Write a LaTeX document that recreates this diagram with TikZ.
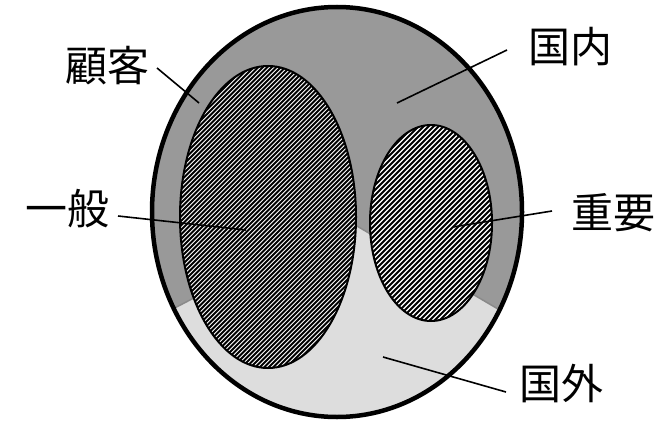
\documentclass[tikz,border=0pt]{standalone}
\usepackage{fontspec}
\newfontfamily\cjk{Noto Sans CJK JP}
\definecolor{darkreg}{HTML}{999999}
\definecolor{lightreg}{HTML}{DDDDDD}
\definecolor{seam}{HTML}{8A8A8A}
\begin{document}
\begin{tikzpicture}[x=1pt,y=-1pt,
  lbl/.style={font=\cjk\fontsize{42}{42}\selectfont, inner sep=0pt},
  leader/.style={draw=black, line width=1.6pt},
  innerrim/.style={draw=black, line width=2pt}]
\useasboundingbox (0,0) rectangle (671,420);

% outer customer region
\coordinate (bigc) at (337,212);
\fill[darkreg] (bigc) ellipse [x radius=185pt, y radius=205pt];
\begin{scope}
  \clip (bigc) ellipse [x radius=185pt, y radius=205pt];
  \fill[lightreg] (100,347) -- (345,219) -- (600,369) -- (600,430) -- (100,430) -- cycle;
  \draw[seam, line width=1.5pt] (100,347) -- (345,219) -- (600,369);
\end{scope}

% left hatched ellipse (general)
\coordinate (genc) at (268,217);
\begin{scope}
  \clip (genc) ellipse [x radius=88pt, y radius=151pt];
  \fill[white] (genc) ellipse [x radius=88pt, y radius=151pt];
  \foreach \c in {240,244.5,...,730} {
    \draw[line width=1.8pt] (\c-420,420) -- (\c,0);
  }
\end{scope}
\draw[innerrim] (genc) ellipse [x radius=88pt, y radius=151pt];

% right hatched ellipse (important)
\coordinate (impc) at (431,223);
\begin{scope}
  \clip (impc) ellipse [x radius=61pt, y radius=98pt];
  \fill[white] (impc) ellipse [x radius=61pt, y radius=98pt];
  \foreach \c in {490,495,...,820} {
    \draw[line width=2pt] (\c-420,420) -- (\c,0);
  }
\end{scope}
\draw[innerrim] (impc) ellipse [x radius=61pt, y radius=98pt];

% outer rim
\draw[black, line width=4.5pt] (bigc) ellipse [x radius=185pt, y radius=205pt];

% labels
\node[lbl] (kokyaku) at (107,66) {顧客};
\node[lbl] (kokunai) at (570,47) {国内};
\node[lbl] (ippan) at (67,209) {一般};
\node[lbl] (juuyou) at (613,213) {重要};
\node[lbl] (kokugai) at (561,384) {国外};

% leader end points
\coordinate (kokyakuS) at (157,68);
\coordinate (kokyakuE) at (199,103);
\coordinate (kokunaiS) at (507,50);
\coordinate (kokunaiE) at (397,103);
\coordinate (ippanS) at (118,216);
\coordinate (ippanE) at (246,230);
\coordinate (juuyouS) at (552,211);
\coordinate (juuyouE) at (453,227);
\coordinate (kokugaiS) at (506,392);
\coordinate (kokugaiE) at (383,357);

\draw[leader] (kokyakuS) -- (kokyakuE);
\draw[leader] (kokunaiS) -- (kokunaiE);
\draw[leader] (ippanS) -- (ippanE);
\draw[leader] (juuyouS) -- (juuyouE);
\draw[leader] (kokugaiS) -- (kokugaiE);
\end{tikzpicture}
\end{document}
